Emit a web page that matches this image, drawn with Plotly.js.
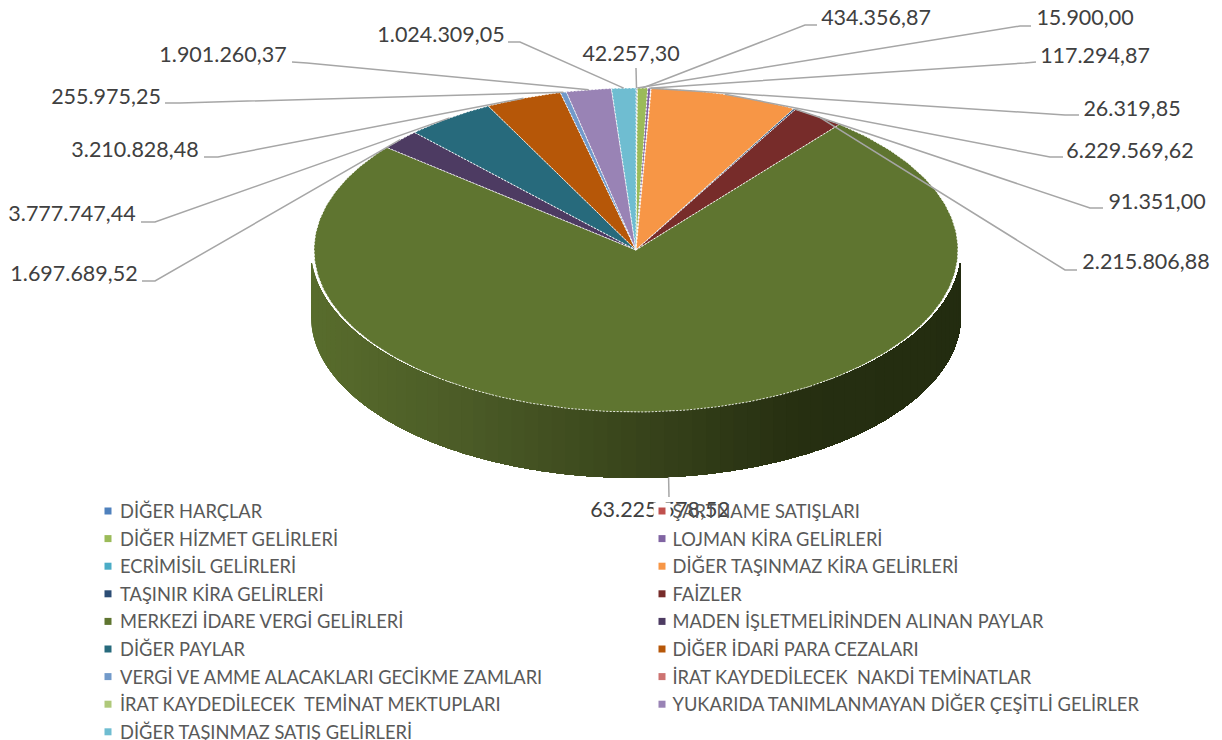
<!DOCTYPE html>
<html><head><meta charset="utf-8">
<script src="https://cdn.plot.ly/plotly-3.0.1.min.js"></script>
<style>html,body{margin:0;padding:0;background:#fff}#c{width:1222px;height:740px}</style></head>
<body><div id="c"></div>
<script>
// ---- data, clockwise from 12 o'clock ----
const categories = ["DİĞER HARÇLAR","ŞARTNAME SATIŞLARI","DİĞER HİZMET GELİRLERİ","LOJMAN KİRA GELİRLERİ","ECRİMİSİL GELİRLERİ","DİĞER TAŞINMAZ KİRA GELİRLERİ","TAŞINIR KİRA GELİRLERİ","FAİZLER","MERKEZİ İDARE VERGİ GELİRLERİ","MADEN İŞLETMELİRİNDEN ALINAN PAYLAR","DİĞER PAYLAR","DİĞER İDARİ PARA CEZALARI","VERGİ VE AMME ALACAKLARI GECİKME ZAMLARI","İRAT KAYDEDİLECEK  NAKDİ TEMİNATLAR","İRAT KAYDEDİLECEK  TEMİNAT MEKTUPLARI","YUKARIDA TANIMLANMAYAN DİĞER ÇEŞİTLİ GELİRLER","DİĞER TAŞINMAZ SATIŞ GELİRLERİ"];
const values = [42257.30,15900.00,434356.87,117294.87,26319.85,6229569.62,91351.00,2215806.88,63225578.52,1697689.52,3777747.44,3210828.48,255975.25,0,0,1901260.37,1024309.05];
const valueLabels = ["42.257,30","15.900,00","434.356,87","117.294,87","26.319,85","6.229.569,62","91.351,00","2.215.806,88","63.225.578,52","1.697.689,52","3.777.747,44","3.210.828,48","255.975,25","","","1.901.260,37","1.024.309,05"];
const colors = ["#4f81bd","#c0504d","#9bbb59","#8064a2","#4bacc6","#f79646","#2c4d75","#772c2a","#5f7530","#4d3b62","#276a7c","#b65708","#729aca","#cd7371","#afc97a","#9983b5","#6fbdd1"];

// ---- layout constants (page pixels) ----
const CX=636, CY=250, RX=322, RY=162, DEPTH=66, SIDE_K=325/322;
const W=1222, H=740;
const ux=p=>(p-CX)/RX, uy=p=>(CY-p)/RY;
const labelPos = [[631,56],[1085,20],[876,20],[1095,58],[1132,111],[1130,153],[1157,204],[1146,264],[660,512],[74,276],[72,216],[135,152],[106,99],null,null,[223,57],[441,37]];
const elbows = [[636,68,636,68],[1031,26,1020,26],[817,25,805,25],[1036,62,1025,63],[1079,115,1065,115],[1063,157,1050,157],[1103,208,1090,208],[1077,270,1065,270],[669,497,669,497],[142,281,155,281],[141,222,155,222],[204,157,218,157],[165,103,180,103],null,null,[292,62,307,63],[508,42,520,42]];
const sideStops = [[0,[88,108,44]],[0.25,[74,90,38]],[0.5,[56,68,27]],[0.75,[38,47,17]],[1,[35,44,16]]];
const legendCols=[108,662], legendTextCols=[120,672.5], legendTop=511, legendStep=27.6, legendTextDrop=2.5;

const total = values.reduce((a,b)=>a+b,0);
const traces=[];

// side wall: each band is painted from its left edge to the far right, the next one over it
function sideColor(f){
  for(let i=1;i<sideStops.length;i++){ if(f<=sideStops[i][0]){
    const a=sideStops[i-1],b=sideStops[i],t=(f-a[0])/(b[0]-a[0]);
    return 'rgb('+a[1].map((v,k)=>Math.round(v+(b[1][k]-v)*t)).join(',')+')';
  }}
  return 'rgb('+sideStops[sideStops.length-1][1].join(',')+')';
}
const dep=DEPTH/RY, capY=-13/RY;
for(let d=270;d>90;d-=2.5){
  const xs=[],ys=[],bot=[];
  for(let a=d;a>=90-1e-6;a-=0.5){
    const r=a*Math.PI/180; xs.push(SIDE_K*Math.sin(r)); bot.push(Math.cos(r)-dep); ys.push(Math.min(Math.cos(r),capY));
  }
  const col=sideColor((Math.sin((d-1.25)*Math.PI/180)+1)/2);
  traces.push({type:'scatter',mode:'none',x:xs.concat(xs.slice().reverse()),y:bot.concat(ys.slice().reverse()),fill:'toself',fillcolor:col,hoverinfo:'skip',showlegend:false});
}

// top face wedges
let cum=0; const mids=[];
values.forEach((v,i)=>{
  const a0=cum/total*2*Math.PI, a1=(cum+v)/total*2*Math.PI; cum+=v; mids.push((a0+a1)/2);
  if(v<=0) return;
  const n=Math.max(2,Math.ceil((a1-a0)/(Math.PI/180))); const xs=[0],ys=[0];
  for(let k=0;k<=n;k++){const a=a0+(a1-a0)*k/n; xs.push(Math.sin(a)); ys.push(Math.cos(a));}
  xs.push(0);ys.push(0);
  traces.push({type:'scatter',mode:'lines',x:xs,y:ys,fill:'toself',fillcolor:colors[i],name:categories[i],line:{color:'rgba(255,255,255,0.85)',width:1,dash:'2px,1.5px'},hoverinfo:'skip',showlegend:false});
});

// leader lines
const lx=[],ly=[];
values.forEach((v,i)=>{
  if(!elbows[i]) return;
  const e=elbows[i], m=mids[i];
  let ax=Math.sin(m), ay=Math.cos(m);
  if(ay<0){ax*=SIDE_K; ay-=dep;}
  lx.push(ux(e[0]),ux(e[2]),ax,null); ly.push(uy(e[1]),uy(e[3]),ay,null);
});
traces.push({type:'scatter',mode:'lines',x:lx,y:ly,line:{color:'#a6a6a6',width:1.5},hoverinfo:'skip',showlegend:false});

// value labels
const shown=values.map((v,i)=>i).filter(i=>labelPos[i]);
traces.push({type:'scatter',mode:'text',x:shown.map(i=>ux(labelPos[i][0])),y:shown.map(i=>uy(labelPos[i][1])),text:shown.map(i=>valueLabels[i]),textposition:'middle center',textfont:{family:'Lato',size:21.5,color:'#404040'},hoverinfo:'skip',showlegend:false});

// legend block (two columns, filled row by row)
const lgx=categories.map((c,i)=>ux(legendCols[i%2])), lgy=categories.map((c,i)=>uy(legendTop+legendStep*Math.floor(i/2)));
traces.push({type:'scatter',mode:'markers',x:lgx,y:lgy,marker:{symbol:'square',size:17,color:'#ffffff'},hoverinfo:'skip',showlegend:false});
traces.push({type:'scatter',mode:'markers',x:lgx,y:lgy,marker:{symbol:'square',size:7,color:colors},hoverinfo:'skip',showlegend:false});
traces.push({type:'scatter',mode:'text',x:categories.map((c,i)=>ux(legendTextCols[i%2])),y:categories.map((c,i)=>uy(legendTop+legendTextDrop+legendStep*Math.floor(i/2))),text:categories,textposition:'middle right',textfont:{family:'Lato',size:18.3,color:'#595959'},hoverinfo:'skip',showlegend:false});

const layout={width:W,height:H,margin:{l:0,r:0,t:0,b:0},paper_bgcolor:'#fff',plot_bgcolor:'#fff',showlegend:false,hovermode:false,
 xaxis:{range:[ux(0),ux(W)],visible:false,fixedrange:true},
 yaxis:{range:[uy(H),uy(0)],visible:false,fixedrange:true}};
Plotly.newPlot('c',traces,layout,{displayModeBar:false,staticPlot:true});
</script></body></html>
